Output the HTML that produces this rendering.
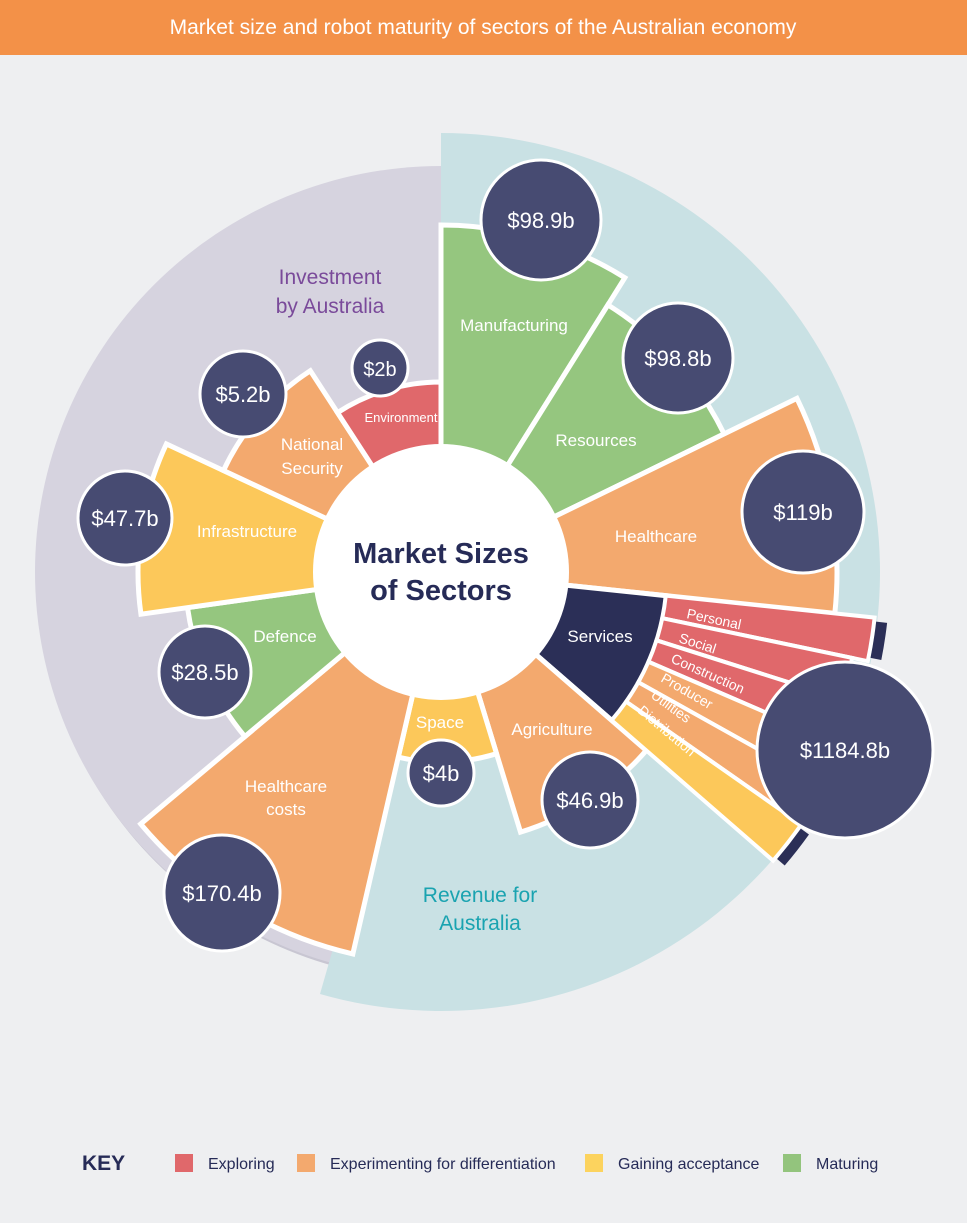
<!DOCTYPE html>
<html><head><meta charset="utf-8"><style>
html,body{margin:0;padding:0;background:#eeeff1;}
svg{display:block;font-family:"Liberation Sans Narrow","Liberation Sans",sans-serif;}
</style></head><body>
<svg id="s" width="967" height="1223" viewBox="0 0 967 1223" xmlns="http://www.w3.org/2000/svg">
<rect width="967" height="1223" fill="#eeeff1"/>
<rect width="967" height="55" fill="#f39148"/>
<text x="483" y="34" text-anchor="middle" fill="#fff" font-size="21">Market size and robot maturity of sectors of the Australian economy</text>
<circle cx="443" cy="575" r="406" fill="#c8c6d2"/>
<circle cx="441" cy="572" r="406" fill="#d6d3df"/>
<g id="bg"></g>
<g id="w"></g>
<circle cx="441" cy="572" r="128" fill="#fff"/>
<g id="c"></g>
<g fill="#fff" font-size="17" text-anchor="middle">
<text x="330" y="284" fill="#7a4a9a" font-size="21">Investment</text>
<text x="330" y="313" fill="#7a4a9a" font-size="21">by Australia</text>
<text x="480" y="902" fill="#1aa3b0" font-size="21">Revenue for</text>
<text x="480" y="930" fill="#1aa3b0" font-size="21">Australia</text>
<text x="514" y="331">Manufacturing</text>
<text x="596" y="446">Resources</text>
<text x="656" y="542">Healthcare</text>
<text x="600" y="642">Services</text>
<text x="552" y="735">Agriculture</text>
<text x="440" y="728">Space</text>
<text x="286" y="792">Healthcare</text>
<text x="286" y="815">costs</text>
<text x="285" y="642">Defence</text>
<text x="247" y="537">Infrastructure</text>
<text x="312" y="450">National</text>
<text x="312" y="474">Security</text>
<text x="401" y="422" font-size="13">Environment</text>
<text x="441" y="563" fill="#262b57" font-size="29" font-weight="bold">Market Sizes</text>
<text x="441" y="600" fill="#262b57" font-size="29" font-weight="bold">of Sectors</text>
</g>
<g fill="#fff" font-size="14">
<text transform="translate(686,618) rotate(12)">Personal</text>
<text transform="translate(678,642) rotate(18)">Social</text>
<text transform="translate(670,662) rotate(24)">Construction</text>
<text transform="translate(660,681) rotate(30)">Producer</text>
<text transform="translate(650,697) rotate(36)">Utilities</text>
<text transform="translate(637,712) rotate(40)">Distribution</text>
</g>
<g id="lab" fill="#fff" font-size="22" text-anchor="middle">
<text x="541" y="228">$98.9b</text>
<text x="678" y="366">$98.8b</text>
<text x="803" y="520">$119b</text>
<text x="845" y="758">$1184.8b</text>
<text x="590" y="808">$46.9b</text>
<text x="441" y="781">$4b</text>
<text x="222" y="901">$170.4b</text>
<text x="205" y="680">$28.5b</text>
<text x="125" y="526">$47.7b</text>
<text x="243" y="402">$5.2b</text>
<text x="380" y="376" font-size="20">$2b</text>
</g>
<g font-size="16" fill="#262b57">
<text x="82" y="1170" font-size="21" font-weight="bold">KEY</text>
<rect x="175" y="1154" width="18" height="18" fill="#e0686b"/><text x="208" y="1169">Exploring</text>
<rect x="297" y="1154" width="18" height="18" fill="#f3a96e"/><text x="330" y="1169">Experimenting for differentiation</text>
<rect x="585" y="1154" width="18" height="18" fill="#fcd35e"/><text x="618" y="1169">Gaining acceptance</text>
<rect x="783" y="1154" width="18" height="18" fill="#93c47d"/><text x="816" y="1169">Maturing</text>
</g>
</svg>
<script>
var NS="http://www.w3.org/2000/svg",cx=441,cy=572;
function P(a,r){a=a*Math.PI/180;return [cx+r*Math.cos(a),cy+r*Math.sin(a)];}
function wedge(a1,a2,r1,r2){var p1=P(a1,r1),p2=P(a1,r2),p3=P(a2,r2),p4=P(a2,r1);var l=(a2-a1)>180?1:0;
return "M"+p1+"L"+p2+"A"+r2+","+r2+" 0 "+l+" 1 "+p3+"L"+p4+"A"+r1+","+r1+" 0 "+l+" 0 "+p1+"Z";}
function add(g,d,f,sw){var e=document.createElementNS(NS,"path");e.setAttribute("d",d);e.setAttribute("fill",f);if(sw){e.setAttribute("stroke","#fff");e.setAttribute("stroke-width",sw);e.setAttribute("stroke-linejoin","miter");}document.getElementById(g).appendChild(e);}
add("bg",wedge(-90,106,0,439),"#c9e1e4");
var G="#95c67f",O="#f3a96e",Y="#fcc85a",R="#e0686b",N="#2b2f57";
var W=[[-90,-58,347,G],[-58,-26,315,G],[-26,6,396,O],[6,41,228,N],[41,73,272,O],[73,103,190,Y],[103,140,392,O],[140,172,256,G],[172,205,303,Y],[205,237,240,O],[237,270,190,R]];
W.forEach(function(w){add("w",wedge(w[0],w[1],100,w[2]),w[3],5);});
var S=[[6,11.8,436,R],[11.8,17.6,420,R],[17.6,23.4,410,R],[23.4,29.2,405,O],[29.2,35,410,O],[35,41,440,Y]];
S.forEach(function(w){add("w",wedge(w[0],w[1],226,w[2]),w[3],4);});
add("w",wedge(6.5,11.3,438,449),N,0);add("w",wedge(35.5,40.5,442,452),N,0);
var C=[[541,220,60],[678,358,55],[803,512,61],[845,750,88],[590,800,48],[441,773,33],[222,893,58],[205,672,46],[125,518,47],[243,394,43],[380,368,28]];
C.forEach(function(c){var e=document.createElementNS(NS,"circle");e.setAttribute("cx",c[0]);e.setAttribute("cy",c[1]);e.setAttribute("r",c[2]);e.setAttribute("fill","#474b72");e.setAttribute("stroke","#fff");e.setAttribute("stroke-width",3);document.getElementById("c").appendChild(e);});
</script>
</body></html>
